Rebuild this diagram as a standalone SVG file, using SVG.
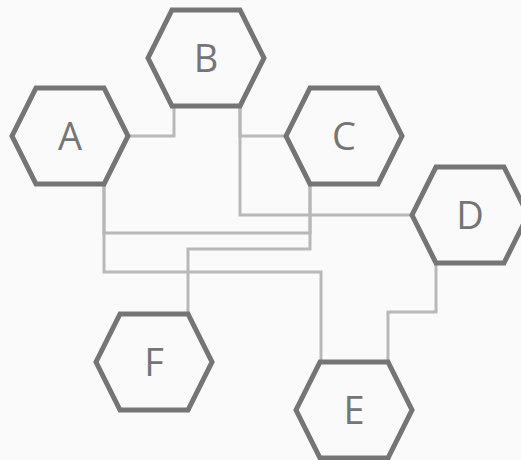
<svg xmlns="http://www.w3.org/2000/svg" width="521" height="460" viewBox="0 0 521 460">
<style>
.hex{fill:#fafafa;stroke:#757575;stroke-width:5;stroke-linejoin:miter}
.lbl{font-family:"Open Sans","Noto Sans",sans-serif;font-size:38px;fill:#757575;text-anchor:middle}
.conn{fill:none;stroke:#b8b8b8;stroke-width:3}
</style>
<defs>
<polygon id="hx" points="-58,0 -34,-48 34,-48 58,0 34,48 -34,48"/>
</defs>
<rect width="521" height="460" fill="#fafafa"/>
<g id="connectors" class="conn">
<path d="M128,136 H174 V106"/>
<path d="M240,106 V136 H286"/>
<path d="M240,106 V215 H412"/>
<path d="M104,183 V233 H310 V183"/>
<path d="M310,183 V249 H188 V314"/>
<path d="M104,183 V272 H321 V362"/>
<path d="M436,262 V312 H388 V362"/>
</g>
<g id="A"><use href="#hx" class="hex" x="70" y="136"/><text class="lbl" x="70" y="150">A</text></g>
<g id="B"><use href="#hx" class="hex" x="206" y="58"/><text class="lbl" x="206" y="72">B</text></g>
<g id="C"><use href="#hx" class="hex" x="344" y="136"/><text class="lbl" x="344" y="150">C</text></g>
<g id="D"><use href="#hx" class="hex" x="470" y="215"/><text class="lbl" x="470" y="229">D</text></g>
<g id="E"><use href="#hx" class="hex" x="354" y="410"/><text class="lbl" x="354" y="424">E</text></g>
<g id="F"><use href="#hx" class="hex" x="154" y="362"/><text class="lbl" x="154" y="376">F</text></g>
</svg>
